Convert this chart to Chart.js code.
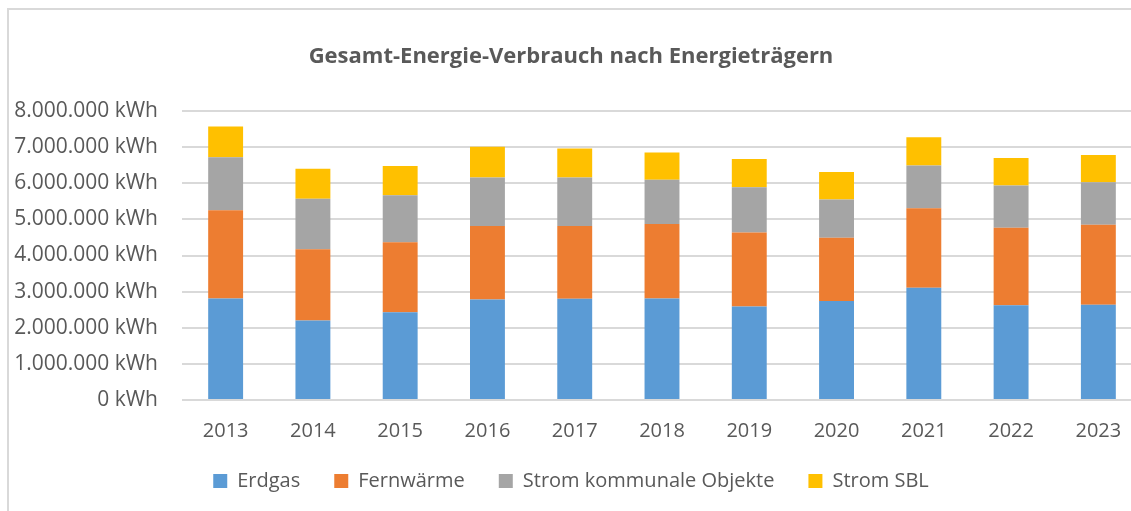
<!DOCTYPE html>
<html>
<head>
  <meta charset="utf-8" />
  <title>Gesamt-Energie-Verbrauch nach Energieträgern</title>
  <script src="https://cdn.jsdelivr.net/npm/chart.js@4.4.0/dist/chart.umd.min.js"></script>
  <style>
    html, body {
      margin: 0;
      padding: 0;
      overflow: hidden;
      background: #fff;
      font-family: "Open Sans", sans-serif;
    }
    .frame {
      position: absolute;
      left: 7px;
      top: 8px;
      width: 1200px;
      height: 600px;
      border-left: 2px solid #d9d9d9;
      border-top: 2px solid #d9d9d9;
    }
    .chart-box {
      position: absolute;
      left: 0;
      top: 0;
      width: 1150px;
      height: 501px;
    }
  </style>
</head>
<body>
<div class="frame"></div>
<div class="chart-box">
  <canvas id="energyChart" width="1150" height="501"></canvas>
</div>

<script>
  // Werte (kWh)
  const years = ['2013', '2014', '2015', '2016', '2017', '2018', '2019', '2020', '2021', '2022', '2023'];
  const erdgas = [2810000, 2200000, 2430000, 2780000, 2800000, 2810000, 2590000, 2740000, 3110000, 2620000, 2640000];
  const fernwaerme = [2440000, 1970000, 1940000, 2040000, 2020000, 2060000, 2050000, 1750000, 2200000, 2150000, 2210000];
  const stromKommunal = [1470000, 1400000, 1300000, 1340000, 1340000, 1230000, 1250000, 1060000, 1180000, 1170000, 1180000];
  const stromSBL = [850000, 830000, 810000, 850000, 800000, 750000, 780000, 760000, 780000, 760000, 750000];

  const seriesNames = ['Erdgas', 'Fernwärme', 'Strom kommunale Objekte', 'Strom SBL'];
  const seriesColors = ['#5b9bd5', '#ed7d31', '#a5a5a5', '#ffc000'];
  const seriesData = [erdgas, fernwaerme, stromKommunal, stromSBL];

  const textColor = '#595959';

  function formatKwh(v) {
    return String(Math.round(v)).replace(/\B(?=(\d{3})+(?!\d))/g, '.') + ' kWh';
  }

  const datasets = seriesNames.map((name, i) => ({
    label: name,
    data: seriesData[i],
    backgroundColor: seriesColors[i],
    borderWidth: 0,
    barPercentage: 0.4,
    categoryPercentage: 1.0
  }));

  const ctx = document.getElementById('energyChart').getContext('2d');
  new Chart(ctx, {
    type: 'bar',
    data: { labels: years, datasets },
    options: {
      responsive: false,
      animation: false,
      layout: { padding: { left: 0, right: 8, top: 0, bottom: 0 } },
      plugins: {
        title: {
          display: true,
          text: 'Gesamt-Energie-Verbrauch nach Energieträgern',
          color: textColor,
          font: { family: '"Open Sans", sans-serif', size: 22, weight: 'bold', lineHeight: 1.2 },
          padding: { top: 44, bottom: 40.6 }
        },
        legend: {
          position: 'bottom',
          labels: {
            color: textColor,
            font: { family: '"Open Sans", sans-serif', size: 20 },
            boxWidth: 14,
            boxHeight: 14,
            padding: 34
          }
        },
        tooltip: { enabled: false }
      },
      scales: {
        x: {
          stacked: true,
          grid: { display: false, drawTicks: false },
          border: { display: false },
          ticks: {
            color: textColor,
            font: { family: '"Open Sans", sans-serif', size: 20 },
            padding: 19,
            maxRotation: 0,
            autoSkip: false
          },
          afterFit: (scale) => { scale.height = 37; }
        },
        y: {
          stacked: true,
          min: 0,
          max: 8000000,
          grid: { color: '#d9d9d9', lineWidth: 2, drawTicks: false },
          border: { display: false },
          ticks: {
            stepSize: 1000000,
            color: textColor,
            font: { family: '"Open Sans", sans-serif', size: 21 },
            padding: 24,
            callback: (v) => formatKwh(v)
          },
          afterFit: (scale) => { scale.width = 182; }
        }
      }
    }
  });
</script>
</body>
</html>
